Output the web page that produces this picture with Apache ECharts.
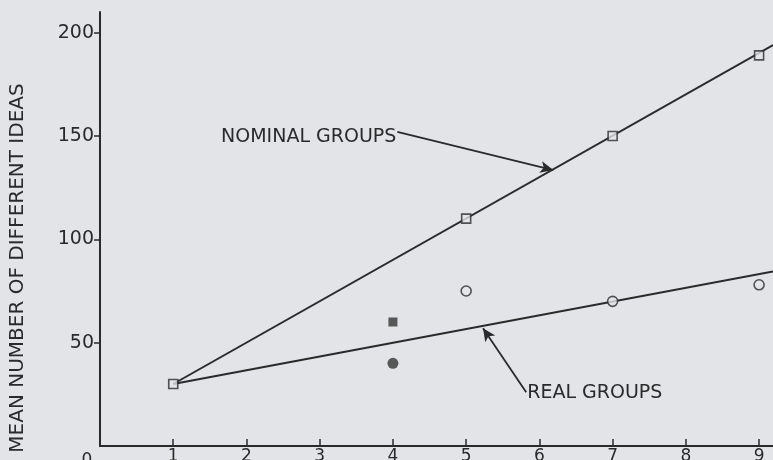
<!DOCTYPE html>
<html>
<head>
<meta charset="utf-8">
<script src="https://cdn.jsdelivr.net/npm/echarts@6/dist/echarts.min.js"></script>
<style>
html,body{margin:0;padding:0;background:#e3e4e8;}
#main{width:773px;height:460px;}
</style>
</head>
<body>
<div id="main"></div>
<script>
// group size on x, mean number of different ideas on y
var nominalPts = [[1, 30], [5, 110], [7, 150], [9, 189]];
var nominalLine = [[1, 30], [9.19, 194]];
var realPts = [[5, 75], [7, 70], [9, 78]];
var realLine = [[1, 30], [9.19, 84.5]];
var filledSquare = [[4, 60]];
var filledCircle = [[4, 40]];
var xTicks = [1, 2, 3, 4, 5, 6, 7, 8, 9];
var xLabels = [0, 1, 2, 3, 4, 5, 6, 7, 8, 9];
var yTicks = [50, 100, 150, 200];
// annotation text + arrow (from, to) in data space
var nomArrow = [[4.06, 152], [6.19, 133.5]];
var realArrow = [[5.82, 26], [5.23, 57]];

var ink = '#2a2a2a';
var paper = '#e3e4e8';
var font = 'DejaVu Sans';

var myChart = echarts.init(document.getElementById('main'));
var option = {
    backgroundColor: paper,
    animation: false,
    grid: {left: 100, right: 0, top: 12, bottom: 14, outerBoundsMode: 'none', containLabel: false},
    xAxis: {
        type: 'value',
        min: 0,
        max: 9.19,
        interval: 1,
        splitLine: {show: false},
        axisLine: {lineStyle: {color: ink, width: 2}},
        axisTick: {show: true, inside: true, length: 7, lineStyle: {color: ink, width: 1.5}, customValues: xTicks},
        axisLabel: {
            customValues: xLabels,
            color: ink, fontFamily: font, fontSize: 17, margin: 2,
            formatter: function (v) { return v === 0 ? '{o|0}' : '' + v; },
            rich: {o: {padding: [4, 26, 0, 0], color: ink, fontFamily: font, fontSize: 17}}
        }
    },
    yAxis: {
        type: 'value',
        min: 0,
        max: 210,
        interval: 50,
        splitLine: {show: false},
        axisLine: {lineStyle: {color: ink, width: 2}},
        axisTick: {show: true, length: 6, lineStyle: {color: ink, width: 1.5}, customValues: yTicks},
        axisLabel: {customValues: yTicks, color: ink, fontFamily: font, fontSize: 19, margin: 6}
    },
    series: [
        {
            name: 'nominal line',
            type: 'line',
            data: nominalLine,
            showSymbol: false,
            lineStyle: {color: ink, width: 2},
            markLine: {
                silent: true,
                symbol: ['none', 'arrow'],
                symbolSize: [9, 13],
                label: {show: false},
                lineStyle: {color: ink, width: 1.8, type: 'solid'},
                data: [[{coord: nomArrow[0]}, {coord: nomArrow[1]}]]
            }
        },
        {
            name: 'real line',
            type: 'line',
            data: realLine,
            showSymbol: false,
            lineStyle: {color: ink, width: 2},
            markLine: {
                silent: true,
                symbol: ['none', 'arrow'],
                symbolSize: [9, 13],
                label: {show: false},
                lineStyle: {color: ink, width: 1.8, type: 'solid'},
                data: [[{coord: realArrow[0]}, {coord: realArrow[1]}]]
            }
        },
        {
            name: 'nominal groups',
            type: 'scatter',
            data: nominalPts,
            symbol: 'rect',
            symbolSize: 9,
            itemStyle: {color: paper, borderColor: ink, borderWidth: 1.6},
            z: 5
        },
        {
            name: 'real groups',
            type: 'scatter',
            data: realPts,
            symbol: 'circle',
            symbolSize: 10,
            itemStyle: {color: paper, borderColor: ink, borderWidth: 1.6},
            z: 5
        },
        {
            name: 'filled square',
            type: 'scatter',
            data: filledSquare,
            symbol: 'rect',
            symbolSize: 9,
            itemStyle: {color: '#333'},
            z: 5
        },
        {
            name: 'filled circle',
            type: 'scatter',
            data: filledCircle,
            symbol: 'circle',
            symbolSize: 11,
            itemStyle: {color: '#333'},
            z: 5
        }
    ]
};
myChart.setOption(option);

// texts placed from data coordinates
var p1 = myChart.convertToPixel({gridIndex: 0}, nomArrow[0]);
var p2 = myChart.convertToPixel({gridIndex: 0}, realArrow[0]);
myChart.setOption({
    graphic: [
        {
            type: 'text', x: 18, y: 268, rotation: Math.PI / 2,
            style: {text: 'MEAN NUMBER OF DIFFERENT IDEAS', fill: ink, font: '20px "DejaVu Sans"', textAlign: 'center', textVerticalAlign: 'middle'}
        },
        {
            type: 'text', x: p1[0] - 1, y: p1[1] + 5,
            style: {text: 'NOMINAL GROUPS', fill: ink, font: '19px "DejaVu Sans"', textAlign: 'right', textVerticalAlign: 'middle'}
        },
        {
            type: 'text', x: p2[0] + 1, y: p2[1] + 1,
            style: {text: 'REAL GROUPS', fill: ink, font: '19px "DejaVu Sans"', textAlign: 'left', textVerticalAlign: 'middle'}
        }
    ]
});
</script>
</body>
</html>
